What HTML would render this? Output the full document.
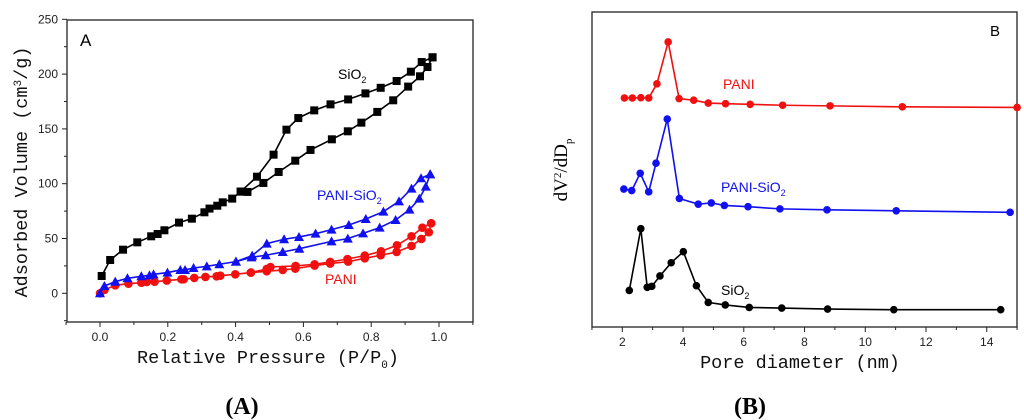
<!DOCTYPE html>
<html><head><meta charset="utf-8"><style>
html,body{margin:0;padding:0;background:#fff;}
svg{display:block;}
.tick{font-family:"Liberation Sans",sans-serif;font-size:12px;fill:#222;}
.mono{font-family:"Liberation Mono",monospace;font-size:18.5px;fill:#111;}
.lbl{font-family:"Liberation Sans",sans-serif;font-size:14px;}
.cap{font-family:"Liberation Serif",serif;font-size:24px;font-weight:bold;}
</style></head><body>
<svg id="chart" width="1024" height="420" viewBox="0 0 1024 420" xmlns="http://www.w3.org/2000/svg">
<g id="pa"></g>
<g id="pb"></g>
</svg>
<script>
// Panel A data
const aTicksX=[0.0,0.2,0.4,0.6,0.8,1.0];
const aTicksY=[0,50,100,150,200,250];
const sioAdsX=[0.005,0.030,0.068,0.110,0.151,0.170,0.190,0.233,0.271,0.308,0.323,0.346,0.362,0.390,0.415,0.435,0.482,0.527,0.576,0.621,0.684,0.731,0.771,0.818,0.865,0.909,0.944,0.966,0.981];
const sioAdsY=[15.8,30.4,39.8,46.5,52.0,54.1,57.5,64.5,68.1,73.9,77.3,79.9,83.0,86.4,92.8,92.5,100.7,110.7,121.0,130.8,140.5,147.8,155.7,165.5,176.1,188.6,198.0,206.5,215.3];
const sioDesX=[0.981,0.949,0.917,0.875,0.828,0.783,0.732,0.680,0.632,0.585,0.550,0.512,0.463,0.415];
const sioDesY=[215.3,211,202.2,193.7,187.5,182.4,176.9,172.4,166.9,159.9,149.3,126.5,106.4,92.8];
const psAdsX=[0,0.013,0.045,0.081,0.122,0.146,0.158,0.199,0.237,0.251,0.276,0.315,0.352,0.401,0.447,0.489,0.539,0.588,0.683,0.731,0.776,0.825,0.872,0.913,0.942,0.961,0.974];
const psAdsY=[0,6.7,10.6,13.7,15.5,16.4,17.3,18.9,21.3,21.3,23.1,24.6,26.5,28.9,32.8,34.7,37.7,40.7,47.4,49.9,54.7,59.9,66.9,76.3,86.4,97.3,108.6];
const psDesX=[0.974,0.947,0.919,0.882,0.836,0.784,0.734,0.683,0.636,0.587,0.543,0.492,0.449,0.401];
const psDesY=[108.6,105.0,95.5,83.9,74.5,67.8,62.3,58.1,54.4,51.4,49.3,45.3,34.4,28.9];
const pAdsX=[0,0.013,0.045,0.084,0.122,0.138,0.161,0.197,0.240,0.247,0.278,0.311,0.344,0.355,0.399,0.445,0.492,0.539,0.576,0.633,0.679,0.732,0.781,0.828,0.875,0.919,0.948,0.970,0.977];
const pAdsY=[0,3.0,7.3,8.8,9.7,10.3,10.6,11.6,12.8,12.8,14.0,14.9,15.5,16.1,17.3,18.9,20.1,21.3,22.5,25.3,27.1,28.9,31.9,34.7,37.7,43.2,49.6,55.7,63.9];
const pDesX=[0.977,0.951,0.919,0.876,0.829,0.781,0.730,0.679,0.633,0.577,0.503,0.492,0.445];
const pDesY=[63.9,59.9,52.0,43.8,38.3,34.4,31.3,28.6,26.5,25.0,24.0,22.2,18.9];
// Panel B data (arbitrary units)
const bTicksX=[2,4,6,8,10,12,14];
const bPaniX=[2.07,2.33,2.61,2.87,3.14,3.51,3.87,4.35,4.83,5.40,6.21,7.28,8.84,11.22,15.0];
const bPaniY=[72.7,72.7,72.8,72.7,77.2,90.5,72.5,72.0,71.1,70.9,70.7,70.4,70.2,69.9,69.7];
const bPsX=[2.05,2.31,2.59,2.87,3.11,3.48,3.88,4.50,4.93,5.36,6.14,7.19,8.74,11.02,14.77];
const bPsY=[43.8,43.3,48.8,42.9,52.0,66.0,40.8,39.0,39.4,38.6,38.2,37.5,37.2,36.9,36.4];
const bSiX=[2.23,2.61,2.82,2.97,3.24,3.61,4.01,4.44,4.83,5.39,6.18,7.25,8.76,10.94,14.46];
const bSiY=[11.6,31.2,12.6,12.9,16.2,20.4,23.9,13.1,7.8,7.0,6.2,6.0,5.7,5.5,5.5];

const NS="http://www.w3.org/2000/svg";
function mk(parent,tag,attrs,txt){const e=document.createElementNS(NS,tag);for(const k in attrs)e.setAttribute(k,attrs[k]);if(txt!==undefined)e.textContent=txt;parent.appendChild(e);return e;}

const ax=v=>100+(v-0)*339;
const ay=v=>293.3-v*1.0960;
const pa=document.getElementById('pa');
let f=mk(pa,'rect',{x:67,y:20,width:406,height:302,fill:'none',stroke:'#222','stroke-width':1.3});

for(let v=-0.1;v<=1.101;v+=0.1){const x=ax(v);const major=Math.abs(Math.round(v*10)%2)===0;mk(pa,'line',{x1:x,x2:x,y1:322,y2:322+(major?5:3),stroke:'#222'});}
aTicksX.forEach(v=>{const t=mk(pa,'text',{x:ax(v),y:341,'text-anchor':'middle',class:'tick'},v.toFixed(1));});
for(let v=-25;v<=250;v+=25){const y=ay(v);mk(pa,'line',{x1:67,x2:67-(v%50===0?5:3),y1:y,y2:y,stroke:'#222'});}
aTicksY.forEach(v=>{const t=mk(pa,'text',{x:58,y:ay(v)+4,'text-anchor':'end',class:'tick'},v);});
function series(g,xs,ys,sx,sy,col,shape,name){
  const p=mk(g,'polyline',{points:xs.map((x,i)=>sx(x)+','+sy(ys[i])).join(' '),fill:'none',stroke:col,'stroke-width':1.6});
  
  xs.forEach((x,i)=>{const X=sx(x),Y=sy(ys[i]);let m;
    if(shape==='sq')m=mk(g,'rect',{x:X-4,y:Y-4,width:8,height:8,fill:col});
    else if(shape==='tri')m=mk(g,'polygon',{points:`${X},${Y-5} ${X-5},${Y+4} ${X+5},${Y+4}`,fill:col});
    else m=mk(g,'circle',{cx:X,cy:Y,r:shape==='cs'?3.8:4.3,fill:col});
    });
}
series(pa,pAdsX,pAdsY,ax,ay,'#f01010','c','pani-adsorption');
series(pa,pDesX,pDesY,ax,ay,'#f01010','c','pani-desorption');
series(pa,psAdsX,psAdsY,ax,ay,'#1010f0','tri','pani-sio2-adsorption');
series(pa,psDesX,psDesY,ax,ay,'#1010f0','tri','pani-sio2-desorption');
series(pa,sioAdsX,sioAdsY,ax,ay,'#000','sq','sio2-adsorption');
series(pa,sioDesX,sioDesY,ax,ay,'#000','sq','sio2-desorption');

const bx=v=>622.3+(v-2)*30.37;
const by=v=>327-v*3.15;
const pb=document.getElementById('pb');
f=mk(pb,'rect',{x:592,y:12,width:425,height:315,fill:'none',stroke:'#222','stroke-width':1.3});

for(let v=1;v<=15;v++){const x=bx(v);mk(pb,'line',{x1:x,x2:x,y1:327,y2:327+(v%2===0?5:3),stroke:'#222'});}
bTicksX.forEach(v=>{const t=mk(pb,'text',{x:bx(v),y:346,'text-anchor':'middle',class:'tick'},v);});
series(pb,bPaniX,bPaniY,bx,by,'#f01010','cs','pani-psd');
series(pb,bPsX,bPsY,bx,by,'#1010f0','cs','pani-sio2-psd');
series(pb,bSiX,bSiY,bx,by,'#000','cs','sio2-psd');
</script>
<svg width="1024" height="420" style="position:absolute;left:0;top:0" xmlns="http://www.w3.org/2000/svg">
<text x="80" y="46" font-family="Liberation Sans,sans-serif" font-size="17">A</text>
<text x="990" y="36" font-family="Liberation Sans,sans-serif" font-size="15">B</text>
<text x="338" y="79" class="lbl" fill="#000">SiO<tspan font-size="9" dy="4">2</tspan></text>
<text x="317" y="200" class="lbl" fill="#1010f0">PANI-SiO<tspan font-size="9" dy="4">2</tspan></text>
<text x="325" y="284" class="lbl" fill="#f01010">PANI</text>
<text x="723" y="89" class="lbl" fill="#f01010">PANI</text>
<text x="721" y="192" class="lbl" fill="#1010f0">PANI-SiO<tspan font-size="9" dy="4">2</tspan></text>
<text x="721" y="295" class="lbl" fill="#000">SiO<tspan font-size="9" dy="4">2</tspan></text>
<text x="268" y="363" text-anchor="middle" class="mono">Relative Pressure (P/P<tspan font-size="11" dy="5">0</tspan><tspan dy="-5">)</tspan></text>
<text x="800" y="368" text-anchor="middle" class="mono">Pore diameter (nm)</text>
<text transform="translate(27,172) rotate(-90)" text-anchor="middle" class="mono">Adsorbed Volume (cm<tspan font-size="11" dy="-6">3</tspan><tspan dy="6">/g)</tspan></text>
<text transform="translate(567,170) rotate(-90)" text-anchor="middle" font-family="Liberation Serif,serif" font-size="19">dV<tspan font-size="11" dy="-6">2</tspan><tspan dy="6">/dD</tspan><tspan font-size="11" dy="5">p</tspan></text>
<text x="242" y="414" text-anchor="middle" class="cap">(A)</text>
<text x="750" y="414" text-anchor="middle" class="cap">(B)</text>
</svg>
</body></html>
